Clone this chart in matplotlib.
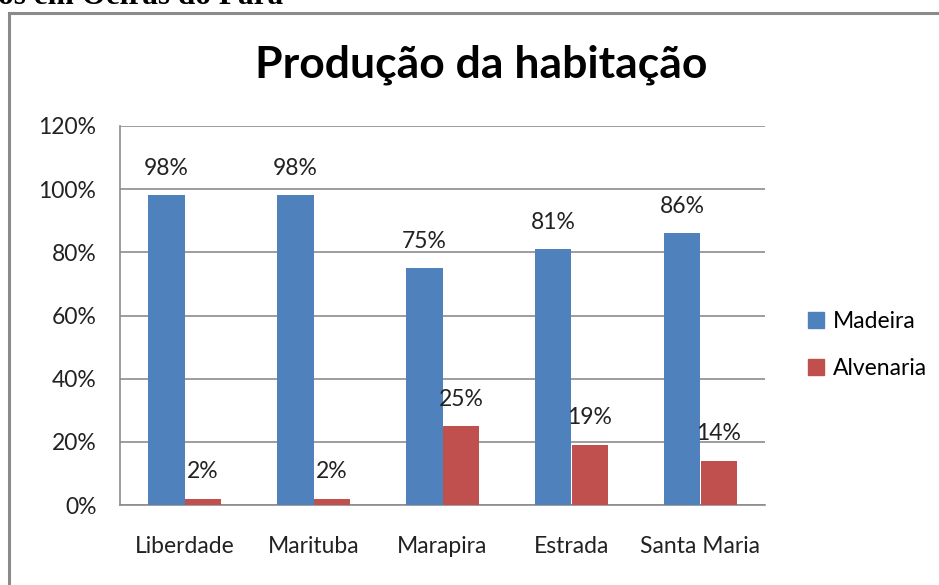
import matplotlib
matplotlib.use("Agg")
import matplotlib.pyplot as plt
import matplotlib.patches as mpatches
import numpy as np

categories = ["Liberdade", "Marituba", "Marapira", "Estrada", "Santa Maria"]
madeira = [98, 98, 75, 81, 86]
alvenaria = [2, 2, 25, 19, 14]
series_names = ["Madeira", "Alvenaria"]
yticks = [0, 20, 40, 60, 80, 100, 120]
title = "Produção da habitação"
header = "os em Oeiras do Pará"

W, H = 939, 585
fig = plt.figure(figsize=(W / 100, H / 100), dpi=100)
plt.rcParams['font.family'] = ['Lato', 'DejaVu Sans']

# outer chart border
fig.patches.append(mpatches.Rectangle((9 / W, -0.1), 1.2, (H - 13) / H + 0.1,
                                      transform=fig.transFigure, fill=False,
                                      edgecolor="#8a8a8a", linewidth=2.2))
fig.text(-2 / W, 1 - 4 / H, header, family="Liberation Serif", weight="bold",
         fontsize=22.5, ha="left", va="baseline")

ax = fig.add_axes([120 / W, (H - 505) / H, (765 - 120) / W, (505 - 126) / H])
x = np.arange(len(categories))
bw = 0.285
c1, c2 = "#4F81BD", "#C0504D"
b1 = ax.bar(x - bw / 2, madeira, bw, color=c1, label=series_names[0], zorder=3)
b2 = ax.bar(x + bw / 2, alvenaria, bw, color=c2, label=series_names[1], zorder=3)
fs = 16.5
for bars, vals in ((b1, madeira), (b2, alvenaria)):
    for b, v in zip(bars, vals):
        ax.annotate(f"{v}%", (b.get_x() + b.get_width() / 2, v),
                    xytext=(0, 27), textcoords="offset pixels",
                    ha="center", va="center", fontsize=fs, color="#222222")

ax.set_xlim(-0.5, len(categories) - 0.5)
ax.set_ylim(0, 120)
ax.set_yticks(yticks)
ax.set_yticklabels([f"{t}%" for t in yticks])
ax.set_xticks(x)
ax.set_xticklabels(categories)
ax.tick_params(axis="both", length=0, labelsize=fs, colors="#222222")
ax.tick_params(axis="y", pad=17)
ax.tick_params(axis="x", pad=22)
ax.grid(axis="y", color="#8c8c8c", linewidth=1.2, zorder=0)
for s in ("top", "right"):
    ax.spines[s].set_visible(False)
for s in ("left", "bottom"):
    ax.spines[s].set_color("#8c8c8c")
    ax.spines[s].set_linewidth(1.2)

fig.text(481 / W, 1 - 65 / H, title, fontsize=32, weight="bold",
         ha="center", va="center")

leg = fig.legend(handles=[mpatches.Patch(color=c1, label=series_names[0]),
                          mpatches.Patch(color=c2, label=series_names[1])],
                 loc="center left", bbox_to_anchor=(787 / W, 1 - 345 / H),
                 frameon=False, fontsize=fs, handlelength=0.7, handleheight=0.7,
                 handletextpad=0.4, labelspacing=1.15)

fig.savefig("out.png", dpi=100)
